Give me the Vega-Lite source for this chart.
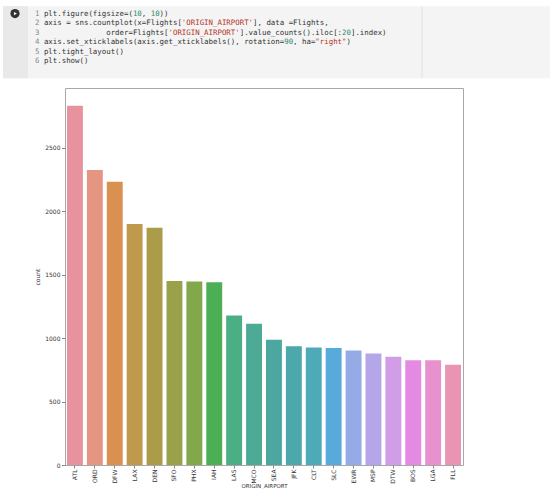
{
  "$schema": "https://vega.github.io/schema/vega-lite/v6.json",
  "padding": {"left": 3, "top": 5, "right": 0, "bottom": 0},
  "background": "white",
  "config": {"font": "DejaVu Sans"},
  "datasets": {
    "code": [
      {"line": 1, "col": 0, "kind": "lineno", "text": "1"},
      {"line": 1, "col": 2, "kind": "code", "text": "plt.figure(figsize=("},
      {"line": 1, "col": 22, "kind": "number", "text": "10"},
      {"line": 1, "col": 24, "kind": "code", "text": ","},
      {"line": 1, "col": 26, "kind": "number", "text": "10"},
      {"line": 1, "col": 28, "kind": "code", "text": "))"},
      {"line": 2, "col": 0, "kind": "lineno", "text": "2"},
      {"line": 2, "col": 2, "kind": "code", "text": "axis = sns.countplot(x=Flights["},
      {"line": 2, "col": 33, "kind": "string", "text": "'ORIGIN_AIRPORT'"},
      {"line": 2, "col": 49, "kind": "code", "text": "], data =Flights,"},
      {"line": 3, "col": 0, "kind": "lineno", "text": "3"},
      {"line": 3, "col": 16, "kind": "code", "text": "order=Flights["},
      {"line": 3, "col": 30, "kind": "string", "text": "'ORIGIN_AIRPORT'"},
      {"line": 3, "col": 46, "kind": "code", "text": "].value_counts().iloc[:"},
      {"line": 3, "col": 69, "kind": "number", "text": "20"},
      {"line": 3, "col": 71, "kind": "code", "text": "].index)"},
      {"line": 4, "col": 0, "kind": "lineno", "text": "4"},
      {"line": 4, "col": 2, "kind": "code", "text": "axis.set_xticklabels(axis.get_xticklabels(), rotation="},
      {"line": 4, "col": 56, "kind": "number", "text": "90"},
      {"line": 4, "col": 58, "kind": "code", "text": ", ha="},
      {"line": 4, "col": 63, "kind": "string", "text": "\"right\""},
      {"line": 4, "col": 70, "kind": "code", "text": ")"},
      {"line": 5, "col": 0, "kind": "lineno", "text": "5"},
      {"line": 5, "col": 2, "kind": "code", "text": "plt.tight_layout()"},
      {"line": 6, "col": 0, "kind": "lineno", "text": "6"},
      {"line": 6, "col": 2, "kind": "code", "text": "plt.show()"}
    ],
    "flights": [
      {"airport": "ATL", "count": 2831},
      {"airport": "ORD", "count": 2324},
      {"airport": "DFW", "count": 2232},
      {"airport": "LAX", "count": 1899},
      {"airport": "DEN", "count": 1870},
      {"airport": "SFO", "count": 1450},
      {"airport": "PHX", "count": 1445},
      {"airport": "IAH", "count": 1439},
      {"airport": "LAS", "count": 1177},
      {"airport": "MCO", "count": 1112},
      {"airport": "SEA", "count": 986},
      {"airport": "JFK", "count": 935},
      {"airport": "CLT", "count": 925},
      {"airport": "SLC", "count": 922},
      {"airport": "EWR", "count": 902},
      {"airport": "MSP", "count": 878},
      {"airport": "DTW", "count": 852},
      {"airport": "BOS", "count": 826},
      {"airport": "LGA", "count": 825},
      {"airport": "FLL", "count": 789}
    ]
  },
  "width": 398,
  "height": 377,
  "view": {"stroke": "#a8a8a8", "strokeWidth": 1},
  "resolve": {
    "scale": {"x": "independent", "y": "independent", "color": "independent"},
    "axis": {"x": "independent", "y": "independent"}
  },
  "layer": [
    {
      "data": {"name": "flights"},
      "mark": {"type": "bar"},
      "encoding": {
        "x": {
          "field": "airport", "type": "nominal", "sort": null,
          "scale": {"paddingInner": 0.2, "paddingOuter": 0.1},
          "axis": {"title": "ORIGIN_AIRPORT", "labelAngle": -90, "labelFontSize": 6, "labelColor": "#333333", "domain": false, "tickColor": "#888888", "tickSize": 3, "labelPadding": 1, "titleFontSize": 5.5, "titleFontWeight": "normal", "titleColor": "#333333", "titlePadding": 0.5}
        },
        "y": {
          "field": "count", "type": "quantitative",
          "scale": {"domain": [0, 2970], "nice": false},
          "axis": {"title": "count", "format": "d", "values": [0, 500, 1000, 1500, 2000, 2500], "grid": false, "domain": false, "labelFontSize": 6, "labelColor": "#333333", "tickColor": "#888888", "tickSize": 3.5, "labelPadding": 1.5, "titleFontSize": 6, "titleFontWeight": "normal", "titleColor": "#333333", "titlePadding": 4}
        },
        "color": {
          "field": "airport", "type": "nominal", "sort": null, "legend": null,
          "scale": {
            "domain": ["ATL", "ORD", "DFW", "LAX", "DEN", "SFO", "PHX", "IAH", "LAS", "MCO", "SEA", "JFK", "CLT", "SLC", "EWR", "MSP", "DTW", "BOS", "LGA", "FLL"],
            "range": ["#e8929f", "#e59682", "#d89150", "#bf9a4d", "#ab9c4a", "#99a24b", "#83a84b", "#4cae55", "#4cae84", "#4caa95", "#4ba7a0", "#4da8ab", "#4faab8", "#57aada", "#94abe6", "#b5a6e9", "#d19de6", "#e58ae2", "#e792cf", "#e994b3"]
          }
        }
      }
    },
    {
      "data": {"name": "code"},
      "encoding": {
        "x": {"field": "col", "type": "quantitative", "scale": {"domain": [6.742, 96.18], "nice": false, "zero": false}, "axis": null},
        "y": {"field": "line", "type": "quantitative", "scale": {"domain": [8.79, 48.27], "reverse": true, "nice": false, "zero": false}, "axis": null}
      },
      "layer": [
        {
          "transform": [{"filter": "datum.line == 1 && datum.col == 0"}],
          "mark": {"type": "rect", "color": "#f4f4f4"},
          "encoding": {
            "x": {"datum": -7.19, "type": "quantitative"},
            "x2": {"datum": 115.73},
            "y": {"datum": 0.235, "type": "quantitative"},
            "y2": {"datum": 7.774}
          }
        },
        {
          "transform": [{"filter": "datum.line == 1 && datum.col == 0"}],
          "mark": {"type": "rect", "color": "#e9e9e9"},
          "encoding": {
            "x": {"datum": -7.19, "type": "quantitative"},
            "x2": {"datum": -1.573},
            "y": {"datum": 0.235, "type": "quantitative"},
            "y2": {"datum": 7.774}
          }
        },
        {
          "transform": [{"filter": "datum.line == 1 && datum.col == 0"}],
          "mark": {"type": "rule", "color": "#e0e0e0", "strokeWidth": 1},
          "encoding": {
            "x": {"datum": 86.97, "type": "quantitative"},
            "y": {"datum": 0.235, "type": "quantitative"},
            "y2": {"datum": 7.774}
          }
        },
        {
          "transform": [{"filter": "datum.line == 1 && datum.col == 0"}],
          "mark": {"type": "point", "filled": true, "color": "#333333", "size": 85, "opacity": 1},
          "encoding": {
            "x": {"datum": -4.49, "type": "quantitative"},
            "y": {"datum": 1, "type": "quantitative"}
          }
        },
        {
          "transform": [{"filter": "datum.line == 1 && datum.col == 0"}],
          "mark": {"type": "point", "filled": true, "color": "#ffffff", "size": 12, "shape": "triangle-right", "opacity": 1},
          "encoding": {
            "x": {"datum": -4.4, "type": "quantitative"},
            "y": {"datum": 1, "type": "quantitative"}
          }
        },
        {
          "mark": {"type": "text", "align": "left", "baseline": "middle", "font": "DejaVu Sans Mono", "fontSize": 7.4},
          "encoding": {
            "text": {"field": "text"},
            "color": {"field": "kind", "type": "nominal", "scale": {"domain": ["lineno", "code", "string", "number"], "range": ["#8a8a8a", "#333333", "#b5332a", "#2b8a6e"]}, "legend": null}
          }
        }
      ]
    }
  ]
}
